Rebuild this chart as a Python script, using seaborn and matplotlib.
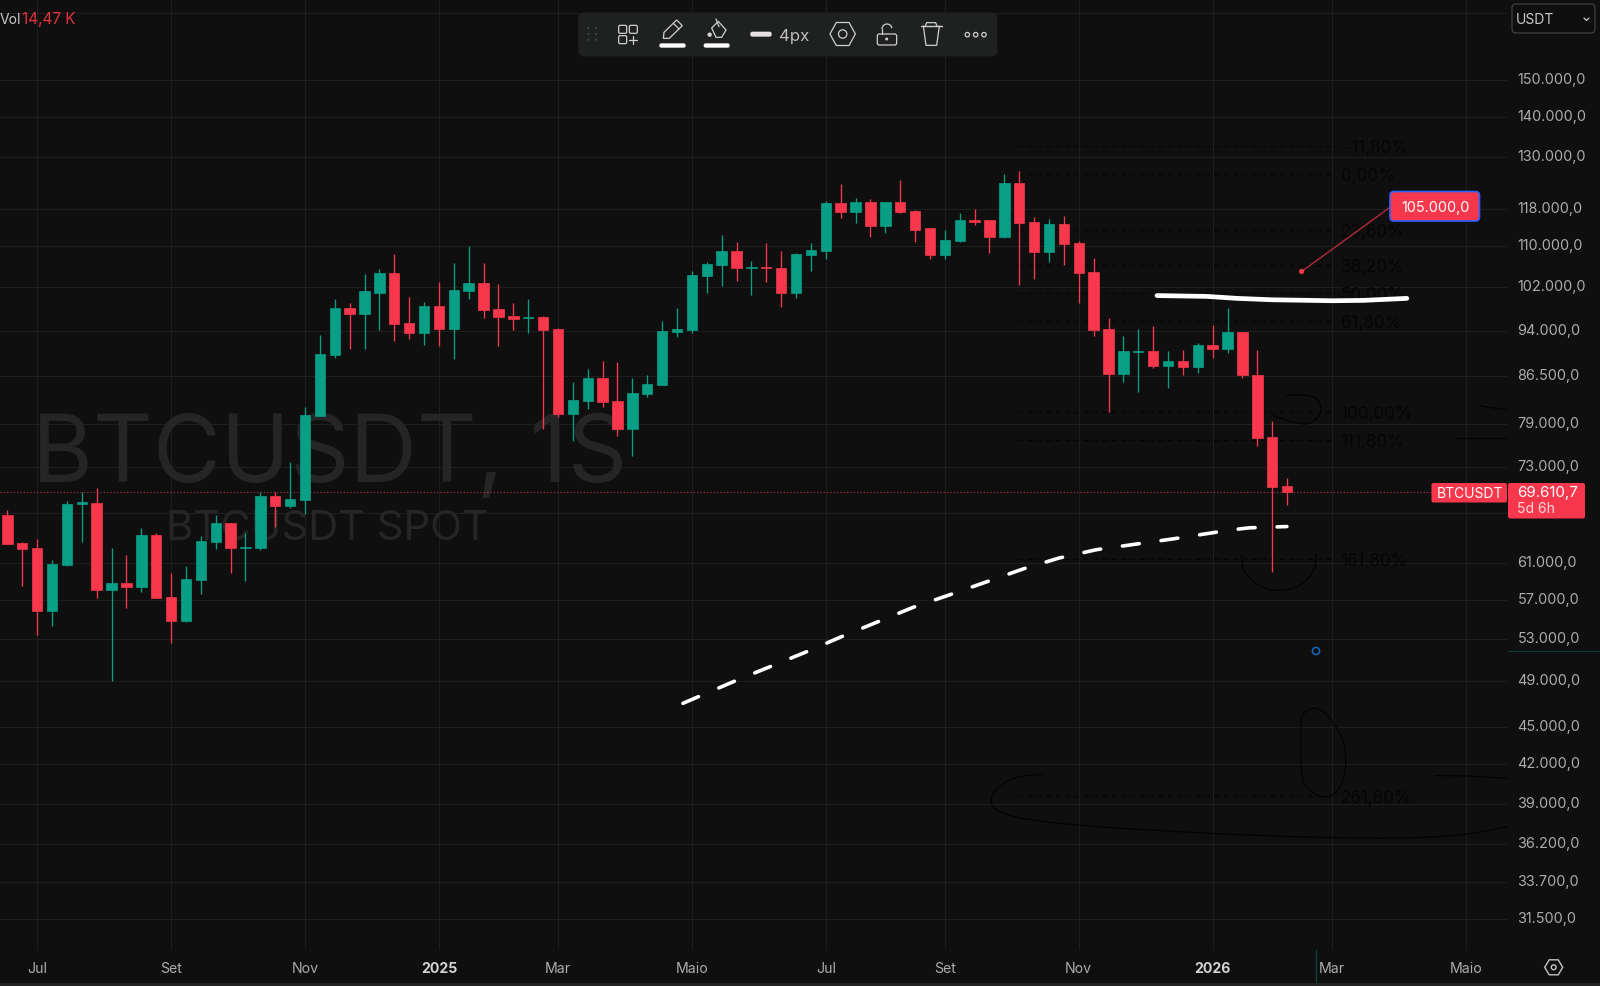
import numpy as np
import matplotlib
matplotlib.use("Agg")
import matplotlib.pyplot as plt
from matplotlib.patches import FancyBboxPatch, Rectangle, Circle, Polygon, Arc
from matplotlib.transforms import ScaledTranslation
import seaborn as sns

# ---------- weekly BTCUSDT candles ----------
opens = [66740,63330,62770,55850,60820,68180,68300,58100,58820,58350,64270,57300,54810,59120,63520,65740,62810,62810,69120,67920,
         68690,80260,89830,98150,97070,100920,104770,95400,93600,98510,94400,101190,102710,97900,96650,96240,96480,94400,80570,82530,
         86170,82530,78330,83540,85060,93750,94180,104050,106330,109130,105630,105890,105630,100920,108200,109130,119250,117210,119540,114280,
         119540,117500,113760,108200,111040,115530,115470,112000,123700,115170,108790,114680,110750,104960,94360,86760,90370,90540,88070,88840,
         87850,91520,90950,93770,86660,77140,70420]
highs = [67415,63450,63840,61430,68480,69630,70160,62770,61960,65120,64580,59900,60680,64150,66720,65740,64560,69630,69630,73710,
         81640,93360,99700,99010,104510,105490,108460,100070,99140,102960,106620,110040,106620,102650,99010,99700,96650,94580,85450,87520,
         88840,88680,86170,86560,95760,98150,105150,106810,112280,110830,107010,110750,109130,108600,110750,119770,123470,120300,120080,119540,
         124530,117710,113760,113460,116990,118000,115470,125850,126480,116170,115750,116450,111040,107730,96240,93170,94360,94830,90540,90760,
         91970,95050,98100,93770,90710,79510,71520]
lows = [63250,58460,53390,54330,60680,63520,57230,49050,56110,57880,57230,52570,54680,57590,62650,59900,59010,62540,65320,67630,
        66880,80260,89440,90950,90950,94180,92310,92560,91520,91350,89220,99700,96240,91350,94180,93600,78330,80060,76650,81300,
        81640,77330,74540,83190,85060,92990,93600,100920,102250,103150,100490,102960,98330,99880,105150,107530,115960,114960,112000,112760,
        116990,110830,107530,107530,110830,114530,108730,111790,102440,103590,106810,106330,99010,93170,80800,85450,83970,87690,84540,86620,
        86920,89440,90180,86170,75880,60000,68050]
closes = [63250,62690,55850,60900,68180,68350,58100,58820,58350,64270,57230,54810,59230,63600,65740,62810,62920,69120,67920,68770,
          80410,90010,98150,97070,101190,104770,95230,93600,98510,94400,101370,102710,97730,96480,96060,96480,94180,80570,82680,86170,
          82380,78330,83690,85220,94010,94400,104240,106530,109130,105690,105890,105630,100920,108400,109330,119250,117210,119540,114280,119540,
          117210,113460,108200,111240,115470,115170,112000,123700,114960,108790,114680,110560,104770,94180,86760,90540,90540,88070,88840,87900,
          91520,90950,93770,86560,77040,70290,69610.7]

# ---------- axis labels ----------
price_ticks = [170000,150000,140000,130000,118000,110000,102000,94000,86500,79000,73000,67000,61000,57000,53000,49000,45000,42000,39000,36200,33700,31500]
hidden_price_ticks = [170000,67000]
time_tick_idx = [2,11,20,29,37,46,55,63,72,81,89,98]
time_tick_labels = ["Jul","Set","Nov","2025","Mar","Maio","Jul","Set","Nov","2026","Mar","Maio"]

# ---------- Fibonacci retracement ----------
fib_labels = ["\u221211,80%","0,00%","23,60%","38,20%","50,00%","61,80%","100,00%","111,80%","161,80%","261,80%"]
fib_prices = [132540,125880,113390,106280,100920,95820,80880,76750,61540,39550]
fib_start_idx, fib_end_idx = 67.9, 88.95
last_price = 69610.7

# ---------- hand-drawn white lines ----------
solid_idx = [77.26,80.6,82.64,84.97,89.09,91.14,94.05]
solid_price = [100400,100250,99880,99620,99440,99510,99880]
dash_idx = [45.4,48.96,53.72,56.11,60.88,63.35,68.27,70.69,73.2,78.31,82.14,83.43,85.99]
dash_price = [47020,49050,51760,53260,56220,57550,60380,61620,62580,63840,64900,65170,65330]

BG, GRID = "#0F0F0F", "#1E1E1E"
RED, GREEN = "#F7374B", "#089F86"
TXT = "#ACACAC"

sns.set_theme(style="dark", rc={"figure.facecolor": BG, "axes.facecolor": BG, "savefig.facecolor": BG})
plt.rcParams["font.family"] = ["Inter", "DejaVu Sans"]

W, H = 1600, 987
AX_R, AX_B = 1507, 951
fig = plt.figure(figsize=(W/100, H/100), dpi=100)
ax = fig.add_axes([0, (H-AX_B)/H, AX_R/W, AX_B/H])

o, h, l, c = map(np.array, (opens, highs, lows, closes))
idx = np.arange(len(o))
up = c >= o
for mask, col in ((up, GREEN), (~up, RED)):
    bottom = np.minimum(o, c)[mask]
    height = np.abs(c-o)[mask]
    sns.barplot(x=idx[mask], y=height, bottom=bottom, native_scale=True, color=col, saturation=1,
                width=0.70, errorbar=None, edgecolor=col, linewidth=0.5, ax=ax, zorder=3)
    ax.vlines(idx[mask], l[mask], h[mask], color=col, lw=0.95, zorder=2.9)

ax.set_yscale("log")
ax.set_ylim(29714, 174330)
ax.set_xlim(-0.497, 100.78)
ax.yaxis.set_minor_locator(matplotlib.ticker.NullLocator())
ax.xaxis.set_minor_locator(matplotlib.ticker.NullLocator())
ax.yaxis.tick_right()
ax.set_yticks(price_ticks)
ax.set_yticklabels(["" if p in hidden_price_ticks else f"{p:,.1f}".replace(",", "X").replace(".", ",").replace("X", ".") for p in price_ticks])
ax.set_xticks(time_tick_idx)
ax.set_xticklabels(time_tick_labels)
ax.tick_params(axis="y", length=0, pad=7.6, labelsize=10.4, labelcolor=TXT)
ax.tick_params(axis="x", length=0, pad=7.6, labelsize=10.2, labelcolor=TXT)
for t in ax.get_xticklabels():
    if t.get_text().startswith("20"):
        t.set_fontweight("bold"); t.set_color("#D4D4D4")
up_1px = ScaledTranslation(0, 1/100, fig.dpi_scale_trans)
for t in ax.get_yticklabels():
    t.set_verticalalignment("center")
    t.set_transform(t.get_transform()+up_1px)
ax.grid(True, color=GRID, lw=0.75)
ax.set_axisbelow(True)
for s in ax.spines.values():
    s.set_visible(False)
ax.set_xlabel(""); ax.set_ylabel("")

# watermark
ax.text(31.5/AX_R, 1-481.7/AX_B, "BTCUSDT, 1S", transform=ax.transAxes, fontsize=67, color="#252525", va="baseline", ha="left", zorder=1)
ax.text(166/AX_R, 1-540/AX_B, "BTCUSDT SPOT", transform=ax.transAxes, fontsize=30, color="#252525", va="baseline", ha="left", zorder=1)

# last price line
ax.plot([-0.497, 95.7], [last_price]*2, color="#C22F3E", lw=0.8, ls=(0, (1, 2)), zorder=2.5)

# Fibonacci levels
down_1px = ScaledTranslation(0, -1.5/100, fig.dpi_scale_trans)
for lab, p in zip(fib_labels, fib_prices):
    ax.plot([fib_start_idx, fib_end_idx], [p, p], color="#050505", lw=0.8, ls=(0, (4.2, 4.2)), zorder=2.6)
    ax.text(fib_end_idx+0.65, p, lab, color="#050505", fontsize=12.3, va="center", ha="left", zorder=2.6,
            transform=ax.transData+down_1px)

# white drawings
sns.lineplot(x=solid_idx, y=solid_price, sort=False, estimator=None, color="white", lw=3.4, ax=ax, zorder=5, solid_capstyle="round")
ax.plot(dash_idx, dash_price, color="white", lw=2.6, ls=(0, (4.7, 6.1)), dash_capstyle="round", zorder=5)
ax.set_xlabel(""); ax.set_ylabel("")
ax.set_xlim(-0.497, 100.78); ax.set_ylim(29714, 174330)

# ---------- overlay: chrome in picture pixels ----------
ov = fig.add_axes([0, 0, 1, 1], facecolor="none")
ov.set_xlim(0, W); ov.set_ylim(H, 0); ov.axis("off")

def round_box(x0, y0, x1, y1, r, fc, ec="none", lw=0, z=6):
    ov.add_patch(FancyBboxPatch((x0+r, y0+r), x1-x0-2*r, y1-y0-2*r, boxstyle=f"round,pad={r},rounding_size={r}", fc=fc, ec=ec, lw=lw, zorder=z))

def smooth(pts, n=3):
    p = np.array(pts, float)
    for _ in range(n):
        a, q = p[:-1], p[1:]
        new = np.empty((len(a)*2, 2))
        new[0::2] = .75*a+.25*q
        new[1::2] = .25*a+.75*q
        p = np.vstack([p[:1], new, p[-1:]])
    return p

scribbles = [
    [(1286,396),(1316,396),(1322.6,411.7),(1313.8,423.3),(1302.3,426),(1272.5,416.7)],
    [(1241.9,556.7),(1243,573.3),(1260,588.3),(1279.4,592.7),(1302.3,586.7),(1315.7,570),(1315.7,555)],
    [(1479.5,406.7),(1507,411)],
    [(1455.4,439),(1507,439)],
    [(1042.9,775.3),(1017.1,777.3),(998.8,786.7),(989.4,800),(994.7,811.7),(1021.2,820),(1078.4,826.7),(1204.9,834.3),(1319.2,838.7),(1409,839.3),(1466.1,836),(1507,827.7)],
    [(1315.1,708.7),(1302.9,713.3),(1300.8,723.3),(1300.8,781.7),(1311,793.3),(1325.3,799),(1335.5,795),(1345.7,778.3),(1345.7,745),(1335.5,726.7),(1325.3,713.3),(1315.1,708.7)],
    [(1435.5,776.7),(1466.1,776.7),(1507,779.3)],
]
for s in scribbles:
    p = smooth(s)
    ov.plot(p[:, 0], p[:, 1], color="#030303", lw=0.9, zorder=3)

# note callout
ov.plot([1301.6, 1390], [272.5, 208.3], color="#B22A38", lw=1.0, zorder=6)
ov.add_patch(Circle((1301.6, 272.5), 2.6, fc=RED, ec="none", zorder=6))
round_box(1390, 192.5, 1479.5, 222, 4, RED, "#2962FF", 1.2)
ov.text(1435, 208, "105.000,0", color="white", fontsize=10.4, ha="center", va="center", zorder=7)

# price labels
round_box(1431.5, 484, 1507, 503.5, 2, RED)
ov.text(1469.5, 494, "BTCUSDT", color="white", fontsize=10, ha="center", va="center", zorder=7)
round_box(1508, 484, 1585, 519.5, 2, RED)
ov.text(1517, 492.7, "69.610,7", color="white", fontsize=10.9, ha="left", va="center", zorder=7)
ov.text(1517, 508.7, "5d 6h", color="#FFD9DC", fontsize=10, ha="left", va="center", zorder=7)

# crosshair remnants
ov.plot([1508, 1600], [652, 652], color="#0B3B36", lw=0.8, zorder=4)
ov.plot([1316, 1316], [951, 983], color="#0B4A44", lw=0.8, zorder=4)
ov.add_patch(Circle((1316, 652), 3.6, fc="none", ec="#1668BE", lw=1.1, zorder=5))
ov.add_patch(Rectangle((0, 983.5), W, 3.5, fc="#232323", ec="none", zorder=4))

# Vol legend
ov.text(0, 19.5, "Vol", color="#C8C8C8", fontsize=10, ha="left", va="center", zorder=7)
ov.text(22.5, 19.5, "14,47 K", color="#E5303F", fontsize=11, ha="left", va="center", zorder=7)

# USDT selector
round_box(1512, 5, 1595, 34, 4, BG, "#3C3C3C", 1.0)
ov.text(1516, 19.5, "USDT", color="#C8C8C8", fontsize=10, ha="left", va="center", zorder=7)
ov.plot([1584, 1586.5, 1589], [19, 21.5, 19], color="#C8C8C8", lw=0.9, zorder=7)

# settings hexagon
def hexagon(cx, cy, rx, ry, z=7, col="#C4C4C4", lw=1.0):
    ov.add_patch(Polygon([(cx-rx, cy), (cx-rx/2, cy-ry), (cx+rx/2, cy-ry), (cx+rx, cy), (cx+rx/2, cy+ry), (cx-rx/2, cy+ry)],
                         closed=True, fc="none", ec=col, lw=lw, zorder=z))
hexagon(1553.7, 968.3, 9, 7.5)
ov.add_patch(Circle((1553.7, 968.3), 2.4, fc="none", ec="#C4C4C4", lw=1.0, zorder=7))

# floating toolbar
tx = lambda z: 570+z/3
ty = lambda y: 5+y/3
ICON = "#CFCFCF"
round_box(578.3, 13.3, 997.3, 57.3, 6, "#1F2121", z=8)
for zx in (55, 78):
    for zy in (72, 90, 107):
        ov.add_patch(Circle((tx(zx), ty(zy)), 1.0, fc="#4A4C4C", ec="none", zorder=9))
for x0, y0 in ((146, 64), (178, 64), (146, 95)):
    ov.add_patch(FancyBboxPatch((tx(x0)+1, ty(y0)+1), 6, 6, boxstyle="round,pad=1,rounding_size=1.5", fc="none", ec=ICON, lw=0.9, zorder=9))
ov.plot([tx(178), tx(202)], [ty(107)]*2, color=ICON, lw=0.9, zorder=9)
ov.plot([tx(190), tx(190)], [ty(95), ty(119)], color=ICON, lw=0.9, zorder=9)
# pencil
ov.add_patch(Polygon([(tx(x), ty(y)) for x, y in ((282,85),(320,48),(337,65),(298,103),(280,103))], closed=True, fc="none", ec=ICON, lw=0.9, zorder=9))
ov.plot([tx(310), tx(327)], [ty(58), ty(75)], color=ICON, lw=0.9, zorder=9)
round_box(tx(268), ty(118), tx(347), ty(131), 2, "white", z=9)
# bucket
ov.add_patch(Polygon([(tx(x), ty(y)) for x, y in ((425,72),(445,52),(468,78),(455,100),(438,100))], closed=True, fc="none", ec=ICON, lw=0.9, zorder=9))
ov.plot([tx(438), tx(447)], [ty(45), ty(68)], color=ICON, lw=0.9, zorder=9)
ov.add_patch(Circle((tx(419), ty(92)), 2.2, fc=ICON, ec="none", zorder=9))
round_box(tx(401), ty(118), tx(479), ty(131), 2, "white", z=9)
# width
round_box(tx(541), ty(83), tx(605), ty(98), 2, "#E6E0E0", z=9)
ov.text(tx(628), ty(94), "4px", color="#BDBDBD", fontsize=12, ha="left", va="center", zorder=9)
# template hexagon
hexagon(tx(818), ty(90), 12.7, 11.5, z=9, col=ICON, lw=0.9)
ov.add_patch(Circle((tx(818), ty(90)), 4.2, fc="none", ec=ICON, lw=0.9, zorder=9))
# unlock
round_box(tx(922), ty(90), tx(980), ty(123), 2, "none", ICON, 0.9, z=9)
ov.add_patch(Circle((tx(950), ty(105)), 1.5, fc=ICON, ec="none", zorder=9))
ov.add_patch(Arc((tx(951), ty(75)), 10, 10, theta1=180, theta2=350, ec=ICON, lw=0.9, zorder=9))
ov.plot([tx(936), tx(936)], [ty(75), ty(90)], color=ICON, lw=0.9, zorder=9)
# trash
ov.plot([tx(1052), tx(1115)], [ty(66)]*2, color=ICON, lw=1.0, zorder=9)
ov.plot([tx(1066), tx(1070), tx(1097), tx(1101)], [ty(66), ty(56), ty(56), ty(66)], color=ICON, lw=0.9, zorder=9)
ov.plot([tx(1060), tx(1068), tx(1100), tx(1108)], [ty(66), ty(124), ty(124), ty(66)], color=ICON, lw=0.9, zorder=9)
# more
for zx in (1192, 1217, 1242):
    ov.add_patch(Circle((tx(zx), ty(92)), 2.2, fc="none", ec=ICON, lw=0.9, zorder=9))

fig.savefig("out.png", dpi=100, facecolor=BG)
